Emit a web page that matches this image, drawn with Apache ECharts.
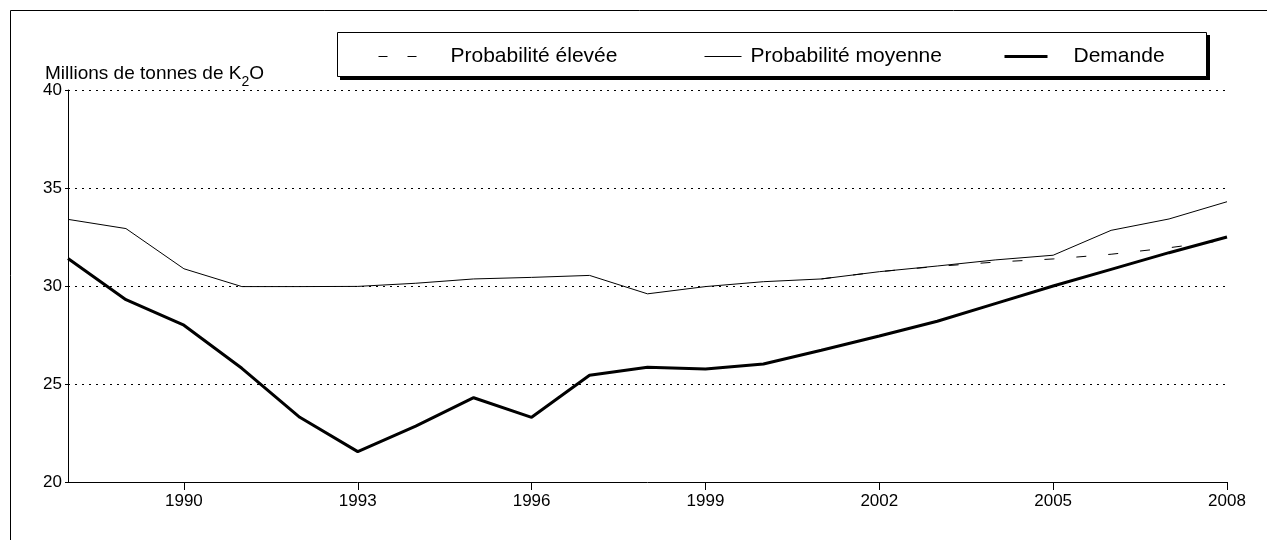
<!DOCTYPE html>
<html>
<head>
<meta charset="utf-8">
<script src="https://cdn.jsdelivr.net/npm/echarts@6/dist/echarts.min.js"></script>
<style>html,body{margin:0;padding:0;background:#fff}#c{width:1267px;height:540px}</style>
</head>
<body>
<div id="c"></div>
<script>
const years = ['1988','1989','1990','1991','1992','1993','1994','1995','1996','1997','1998','1999','2000','2001','2002','2003','2004','2005','2006','2007','2008'];
const demande = [31.4, 29.3, 28.0, 25.8, 23.3, 21.55, 22.85, 24.3, 23.3, 25.45, 25.85, 25.77, 26.02, 26.72, 27.45, 28.2, 29.1, 30.0, 30.85, 31.7, 32.5];
const moyenne = [33.4, 32.93, 30.88, 29.97, 29.97, 29.98, 30.14, 30.36, 30.44, 30.54, 29.6, 29.97, 30.22, 30.36, 30.73, 31.02, 31.33, 31.57, 32.84, 33.42, 34.3];
const elevee = [null, null, null, null, null, null, null, null, null, null, null, null, null, 30.36, 30.73, 31.0, 31.22, 31.38, 31.62, 31.95, 32.35];
const yTicks = [20, 25, 30, 35, 40];
const labelYears = ['1990','1993','1996','1999','2002','2005','2008'];
const names = ['Probabilité élevée', 'Probabilité moyenne', 'Demande'];

const FONT = '"Liberation Sans", Arial, sans-serif';
const chart = echarts.init(document.getElementById('c'), null, {renderer: 'canvas'});
const isLabelYear = (i, v) => labelYears.indexOf(years[i]) >= 0;

const legendText = (pad) => ({fontFamily: FONT, fontSize: 21, color: '#000', padding: [0, 0, 0, pad]});
const legendBase = {
  top: 41, itemHeight: 14, itemGap: 0, selectedMode: false,
  itemStyle: {opacity: 0, borderWidth: 0}
};

chart.setOption({
  animation: false,
  backgroundColor: '#fff',
  title: {
    left: 40, top: 56,
    text: '{a|Millions de tonnes de K}{b|2}{a|O}',
    textStyle: {fontWeight: 'normal', rich: {
      a: {fontFamily: FONT, fontSize: 19, fontWeight: 'normal', color: '#000', verticalAlign: 'bottom', lineHeight: 22},
      b: {fontFamily: FONT, fontSize: 14, fontWeight: 'normal', color: '#000', verticalAlign: 'bottom', lineHeight: 14, padding: [0, 0, -6, 0]}
    }}
  },
  graphic: [
    {type: 'line', silent: true, shape: {x1: 10.5, y1: 10.5, x2: 1300, y2: 10.5}, style: {stroke: '#000', lineWidth: 1}},
    {type: 'line', silent: true, shape: {x1: 10.5, y1: 10.5, x2: 10.5, y2: 600}, style: {stroke: '#000', lineWidth: 1}},
    {type: 'rect', silent: true, z: -1, shape: {x: 340, y: 35, width: 870, height: 45}, style: {fill: '#000'}},
    {type: 'rect', silent: true, z: 0, shape: {x: 337.5, y: 32.5, width: 869, height: 44}, style: {fill: '#fff', stroke: '#000', lineWidth: 1}}
  ],
  legend: [
    Object.assign({}, legendBase, {left: 373, itemWidth: 40, textStyle: legendText(27),
      data: [{name: names[0], lineStyle: {type: [9, 20], width: 1, color: '#000'}}]}),
    Object.assign({}, legendBase, {left: 699, itemWidth: 37, textStyle: legendText(4),
      data: [{name: names[1], lineStyle: {type: 'solid', width: 1, color: '#000'}}]}),
    Object.assign({}, legendBase, {left: 998, itemWidth: 43, textStyle: legendText(21),
      data: [{name: names[2], lineStyle: {type: 'solid', width: 3, color: '#000'}}]})
  ],
  grid: {left: 68, right: 40, top: 90, bottom: 58, containLabel: false},
  xAxis: {
    type: 'category', data: years, boundaryGap: false,
    axisLine: {lineStyle: {color: '#000', width: 1}},
    axisTick: {show: true, interval: isLabelYear, length: 8, lineStyle: {color: '#000'}},
    axisLabel: {interval: isLabelYear, fontFamily: FONT, fontSize: 17, color: '#000', margin: 11},
    splitLine: {show: false}
  },
  yAxis: {
    type: 'value', min: 20, max: 40, interval: 5,
    axisLine: {show: true, lineStyle: {color: '#000', width: 1}},
    axisTick: {show: true, length: 3, lineStyle: {color: '#000'}},
    axisLabel: {fontFamily: FONT, fontSize: 17, color: '#000', margin: 6,
      formatter: v => yTicks.indexOf(v) >= 0 ? String(v) : ''},
    splitLine: {show: true, lineStyle: {color: '#000', type: [2, 5], width: 1}}
  },
  series: [
    {name: names[0], type: 'line', data: elevee, symbol: 'none', z: 2,
      lineStyle: {color: '#000', width: 1, type: [10, 22]}, itemStyle: {color: '#000'}},
    {name: names[1], type: 'line', data: moyenne, symbol: 'none', z: 3,
      lineStyle: {color: '#000', width: 1}, itemStyle: {color: '#000'}},
    {name: names[2], type: 'line', data: demande, symbol: 'none', z: 4,
      lineStyle: {color: '#000', width: 3}, itemStyle: {color: '#000'}}
  ]
});
</script>
</body>
</html>
